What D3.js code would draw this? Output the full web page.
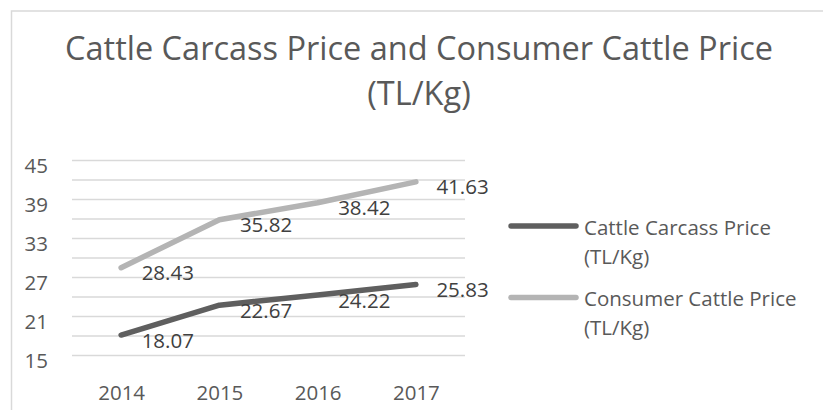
<!DOCTYPE html>
<html>
<head>
<meta charset="utf-8">
<script src="https://cdn.jsdelivr.net/npm/d3@7"></script>
<style>
  body { margin: 0; background: #fff; }
  svg { display: block; font-family: "Open Sans", sans-serif; }
</style>
</head>
<body>
<svg width="823" height="410"></svg>
<script>
// Chart data
const years = ['2014', '2015', '2016', '2017'];
const carcassPrice = [18.07, 22.67, 24.22, 25.83];
const consumerPrice = [28.43, 35.82, 38.42, 41.63];
const gridTicks = [15, 18, 21, 24, 27, 30, 33, 36, 39, 42, 45];
const labelTicks = [15, 21, 27, 33, 39, 45];
const seriesNames = [['Cattle Carcass Price', '(TL/Kg)'], ['Consumer Cattle Price', '(TL/Kg)']];

const textColor = '#595959';
const colors = ['#5f5f5f', '#b4b4b4'];

const svg = d3.select('svg');

// Outer chart frame (only top/left visible)
svg.append('rect')
  .attr('x', 11.5).attr('y', 11)
  .attr('width', 840).attr('height', 420)
  .attr('fill', 'none')
  .attr('stroke', '#d9d9d9')
  .attr('stroke-width', 1.5);

// Title
const title = svg.append('text')
  .attr('text-anchor', 'middle')
  .attr('fill', textColor)
  .style('font-size', '32.5px');
title.append('tspan').attr('x', 419).attr('y', 60).text('Cattle Carcass Price and Consumer Cattle Price');
title.append('tspan').attr('x', 419).attr('y', 105).text('(TL/Kg)');

// Plot area
const plotLeft = 72, plotRight = 465, plotTop = 160, plotBottom = 355;

const x = d3.scalePoint()
  .domain(years)
  .range([plotLeft, plotRight])
  .padding(0.5);

const y = d3.scaleLinear()
  .domain([15, 45])
  .range([plotBottom, plotTop]);

// Gridlines + y labels
const yAxis = svg.append('g')
  .attr('transform', `translate(${plotLeft},0)`)
  .call(d3.axisLeft(y)
    .tickValues(gridTicks)
    .tickSize(-(plotRight - plotLeft))
    .tickPadding(24)
    .tickFormat(d => labelTicks.includes(d) ? d : ''));
yAxis.select('.domain').remove();
yAxis.selectAll('line').attr('stroke', '#d9d9d9').attr('stroke-width', 1.5);
yAxis.selectAll('text')
  .attr('dy', '12px')
  .attr('fill', textColor)
  .style('font-size', '20.5px')
  .style('font-family', '"Open Sans", sans-serif');

// X labels
const xAxis = svg.append('g')
  .attr('transform', `translate(0,${plotBottom})`)
  .call(d3.axisBottom(x).tickSize(0));
xAxis.select('.domain').remove();
xAxis.selectAll('text')
  .attr('y', 45).attr('dy', 0)
  .attr('fill', textColor)
  .style('font-size', '20.5px')
  .style('font-family', '"Open Sans", sans-serif');

// Lines
const line = d3.line()
  .x((d, i) => x(years[i]))
  .y(d => y(d));

const allSeries = [carcassPrice, consumerPrice];

allSeries.forEach((vals, si) => {
  svg.append('path')
    .datum(vals)
    .attr('d', line)
    .attr('fill', 'none')
    .attr('stroke', colors[si])
    .attr('stroke-width', 5.5)
    .attr('stroke-linecap', 'round')
    .attr('stroke-linejoin', 'round');
});

// Data labels (drawn after lines so they sit on top)
allSeries.forEach(vals => {
  svg.append('g').selectAll('text')
    .data(vals)
    .enter().append('text')
    .attr('x', (d, i) => x(years[i]) + 20.5)
    .attr('y', d => y(d) + 12.5)
    .attr('fill', '#404040')
    .style('font-size', '20.5px')
    .text(d => d.toFixed(2));
});

// Legend
const legendY = [226, 297.5];
seriesNames.forEach((name, si) => {
  const g = svg.append('g');
  g.append('line')
    .attr('x1', 511).attr('x2', 576)
    .attr('y1', legendY[si]).attr('y2', legendY[si])
    .attr('stroke', colors[si])
    .attr('stroke-width', 5.5)
    .attr('stroke-linecap', 'round');
  const t = g.append('text')
    .attr('fill', textColor)
    .style('font-size', '20.5px');
  name.forEach((part, k) => {
    t.append('tspan')
      .attr('x', 584)
      .attr('y', legendY[si] + 8.5 + k * 29)
      .text(part);
  });
});
</script>
</body>
</html>
